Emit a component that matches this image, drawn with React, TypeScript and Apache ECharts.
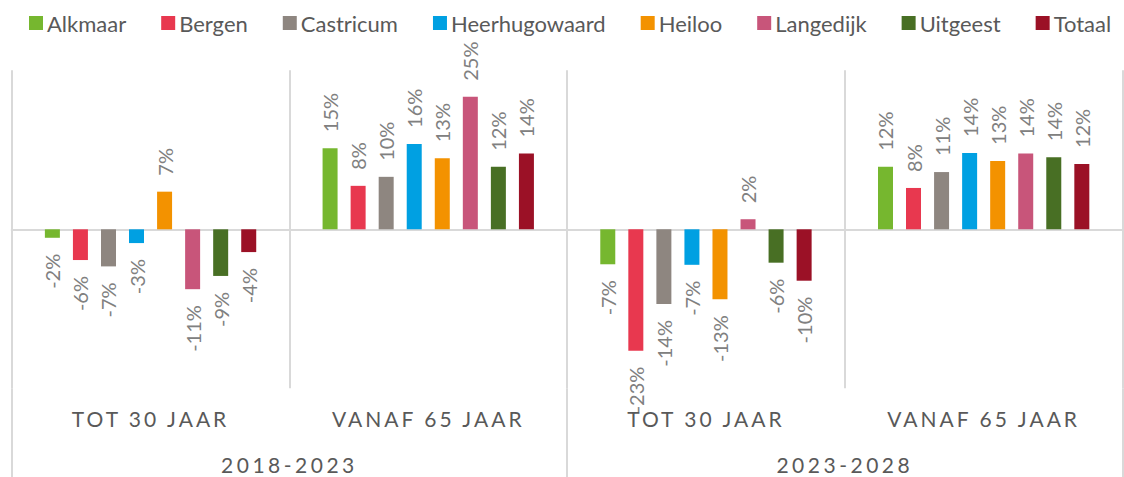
import React, { useEffect, useRef } from "react";
import * as echarts from "echarts";

// Categories (bottom axis, two levels)
const categories = ["TOT 30 JAAR", "VANAF 65 JAAR", "TOT 30 JAAR", "VANAF 65 JAAR"];
const periods = ["2018-2023", "2023-2028"];

// Series values (% change), order follows categories
const alkmaar = [-1.6, 15.3, -6.6, 11.8];
const bergen = [-5.8, 8.2, -22.9, 7.8];
const castricum = [-7.0, 9.9, -14.1, 10.8];
const heerhugowaard = [-2.6, 16.1, -6.7, 14.4];
const heiloo = [7.1, 13.4, -13.2, 12.9];
const langedijk = [-11.3, 25.0, 1.9, 14.3];
const uitgeest = [-8.8, 11.8, -6.3, 13.6];
const totaal = [-4.3, 14.3, -9.7, 12.3];

const seriesNames = ["Alkmaar", "Bergen", "Castricum", "Heerhugowaard", "Heiloo", "Langedijk", "Uitgeest", "Totaal"];
const seriesValues = [alkmaar, bergen, castricum, heerhugowaard, heiloo, langedijk, uitgeest, totaal];
const seriesColors = ["#76B72F", "#E8384F", "#8E8680", "#00A0E2", "#F39200", "#C8557A", "#486F24", "#9B1126"];

const FONT = "Lato";

export default function App() {
  const ref = useRef<HTMLDivElement>(null);

  useEffect(() => {
    document.body.style.margin = "0";
    if (!ref.current) return;
    const el = ref.current;
    const chart = echarts.init(el, undefined, { renderer: "svg" });

    const series = seriesNames.map((name, i) => ({
      name,
      type: "bar",
      xAxisIndex: 0,
      yAxisIndex: 0,
      barWidth: 15,
      barGap: "87%",
      itemStyle: { color: seriesColors[i] },
      data: seriesValues[i].map((v) => ({
        value: v,
        label: {
          position: v < 0 ? "bottom" : "top",
          align: v < 0 ? "right" : "left",
        },
      })),
      label: {
        show: true,
        rotate: 90,
        verticalAlign: "middle",
        distance: 16,
        color: "#808080",
        fontFamily: FONT,
        fontSize: 20,
        formatter: (p: any) => Math.round(p.value) + "%",
      },
    }));

    chart.setOption({
      animation: false,
      backgroundColor: "#ffffff",
      textStyle: { fontFamily: FONT },
      legend: {
        top: 12,
        left: 29,
        padding: 0,
        itemWidth: 14,
        itemHeight: 14,
        itemGap: 35,
        icon: "rect",
        textStyle: { fontSize: 22, color: "#595959", fontFamily: FONT, padding: [0, 0, 0, -1] },
        data: seriesNames,
      },
      grid: { left: 11.7, right: 1.5, top: 70.3, bottom: 88.7, containLabel: false },
      xAxis: [
        {
          type: "category",
          data: categories,
          position: "bottom",
          axisLine: { show: true, onZero: true, lineStyle: { color: "#d9d9d9", width: 2 } },
          axisTick: { show: false },
          axisLabel: { show: false },
          splitLine: { show: true, interval: 0, lineStyle: { color: "#d9d9d9", width: 2 } },
        },
        {
          type: "category",
          data: categories,
          position: "bottom",
          axisLine: { show: false, onZero: false },
          axisTick: { show: false },
          splitLine: { show: false },
          axisLabel: {
            show: true,
            interval: 0,
            margin: 20,
            fontSize: 21,
            color: "#595959",
            fontFamily: FONT,
          },
        },
        {
          type: "category",
          data: periods,
          position: "bottom",
          axisLine: { show: false, onZero: false },
          axisTick: { show: true, interval: 0, length: 89, lineStyle: { color: "#d9d9d9", width: 2 } },
          splitLine: { show: false },
          axisLabel: {
            show: true,
            interval: 0,
            margin: 66,
            fontSize: 21,
            color: "#595959",
            fontFamily: FONT,
          },
        },
      ],
      yAxis: {
        type: "value",
        min: -30,
        max: 30,
        interval: 30,
        show: false,
      },
      series,
    });

    const spacing: Record<string, string> = {};
    categories.forEach((c) => (spacing[c] = "3px"));
    periods.forEach((p) => (spacing[p] = "3.5px"));
    const applySpacing = () => {
      el.querySelectorAll("text").forEach((t) => {
        const s = spacing[(t.textContent || "").trim()];
        if (s) t.setAttribute("letter-spacing", s);
      });
    };
    chart.on("finished", applySpacing);
    applySpacing();
    const timer = setTimeout(applySpacing, 30);

    return () => {
      clearTimeout(timer);
      chart.dispose();
    };
  }, []);

  return <div ref={ref} style={{ width: 1124, height: 477 }} />;
}
